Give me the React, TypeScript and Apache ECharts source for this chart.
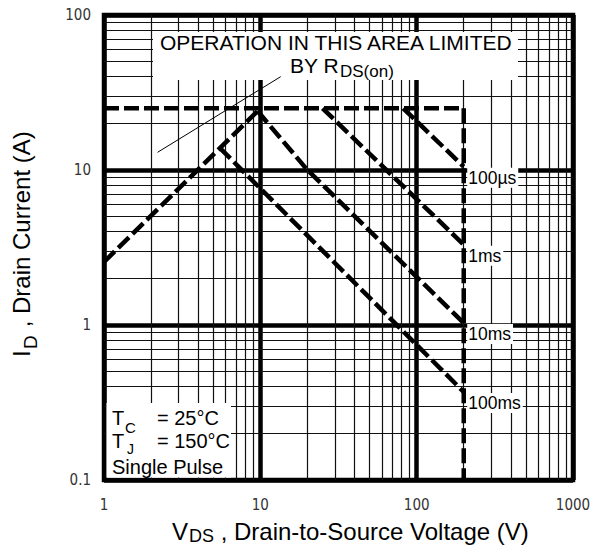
import React, { useEffect, useRef } from 'react';
import * as echarts from 'echarts';

// Axis ranges and grid ticks
const xRange = [1, 1000];
const yRange = [0.1, 100];
const xMinorGrid = [2, 3, 4, 5, 6, 7, 8, 9, 20, 30, 40, 50, 60, 70, 80, 90, 200, 300, 400, 500, 600, 700, 800, 900];
const yMinorGrid = [0.2, 0.3, 0.4, 0.5, 0.6, 0.7, 0.8, 0.9, 2, 3, 4, 5, 6, 7, 8, 9, 20, 30, 40, 50, 60, 70, 80, 90];

// Safe operating area boundaries (V, A)
const currentLimit = [[1, 25], [200, 25]];
const voltageLimit = [[200, 25], [200, 0.1]];
const rdsOnLimit = [[1, 2.55], [9.6, 24]];
const pulse100us = [[82, 25], [200, 10.5]];
const pulse1ms = [[25, 25], [200, 3.3]];
const pulse10ms = [[9.6, 24], [20, 10], [200, 1.03]];
const pulse100ms = [[5.5, 13.9], [200, 0.37]];
const rdsPointer = [[2.2, 13], [13.5, 40]];

const pulseLabelNames = ['100µs', '1ms', '10ms', '100ms'];
const pulseLabelAnchors = [[200, 10.5], [200, 3.3], [200, 1.03], [200, 0.37]];

const FONT = "'Liberation Sans', Arial, Helvetica, sans-serif";
const NARROW = "'Liberation Sans Narrow', 'Arial Narrow', 'DejaVu Sans Condensed', 'Liberation Sans', sans-serif";

function txt(text: string, x: number, y: number, size: number, extra: any = {}) {
  return {
    type: 'text',
    x,
    y,
    z: 20,
    silent: true,
    ...extra,
    style: {
      text,
      fill: '#000',
      fontSize: size,
      fontFamily: FONT,
      align: 'left',
      textAlign: 'left',
      verticalAlign: 'middle',
      textVerticalAlign: 'middle',
    },
  };
}

const dashed = { color: '#000', width: 4.5, type: [15, 5] as number[] };

function dashedSeries(name: string, data: number[][]) {
  return {
    name,
    type: 'line',
    data,
    z: 10,
    showSymbol: false,
    symbol: 'none',
    silent: true,
    lineStyle: dashed,
  };
}

export default function App() {
  const ref = useRef<HTMLDivElement>(null);
  useEffect(() => {
    if (!ref.current) return;
    const chart = echarts.init(ref.current, null, { renderer: 'svg' });
    const fmt = (v: number) => String(Number(v.toPrecision(3)));
    const option: any = {
      animation: false,
      backgroundColor: '#fff',
      grid: {
        left: 104,
        right: 27,
        top: 15,
        bottom: 66,
        show: true,
        borderColor: '#000',
        borderWidth: 4.5,
        containLabel: false,
        outerBoundsMode: 'none',
      },
      xAxis: {
        type: 'log',
        logBase: 10,
        min: xRange[0],
        max: xRange[1],
        axisLine: { show: false },
        axisTick: { show: false },
        axisLabel: { margin: 17, fontSize: 15, color: '#333', fontFamily: NARROW, formatter: fmt },
        splitLine: { show: true, lineStyle: { color: '#000', width: 4.5 } },
        minorTick: { show: false },
        minorSplitLine: { show: false },
      },
      yAxis: {
        type: 'log',
        logBase: 10,
        min: yRange[0],
        max: yRange[1],
        axisLine: { show: false },
        axisTick: { show: false },
        axisLabel: { margin: 13, fontSize: 15, color: '#333', fontFamily: NARROW, formatter: fmt },
        splitLine: { show: true, lineStyle: { color: '#000', width: 4.5 } },
        minorTick: { show: false },
        minorSplitLine: { show: false },
      },
      series: [
        {
          name: 'grid',
          type: 'line',
          data: [],
          z: 1,
          silent: true,
          markLine: {
            silent: true,
            z: 1,
            symbol: ['none', 'none'],
            label: { show: false },
            emphasis: { disabled: true },
            lineStyle: { color: '#111', width: 1.2, type: 'solid' },
            data: [
              ...xMinorGrid.map((v) => ({ xAxis: v })),
              ...yMinorGrid.map((v) => ({ yAxis: v })),
            ],
          },
        },
        dashedSeries('currentLimit', currentLimit),
        dashedSeries('voltageLimit', voltageLimit),
        dashedSeries('rdsOn', rdsOnLimit),
        dashedSeries('100us', pulse100us),
        dashedSeries('1ms', pulse1ms),
        dashedSeries('10ms', pulse10ms),
        dashedSeries('100ms', pulse100ms),
        {
          name: 'pointer',
          type: 'line',
          data: rdsPointer,
          z: 10,
          showSymbol: false,
          symbol: 'none',
          silent: true,
          lineStyle: { color: '#000', width: 1 },
        },
        {
          name: 'pulseLabels',
          type: 'scatter',
          z: 12,
          silent: true,
          symbolSize: 1,
          itemStyle: { color: 'rgba(0,0,0,0)', opacity: 1 },
          data: pulseLabelAnchors.map((v, i) => ({ name: pulseLabelNames[i], value: v })),
          label: {
            show: true,
            position: 'right',
            distance: 3,
            offset: [0, 11],
            formatter: (p: any) => p.name,
            fontSize: 17.5,
            fontFamily: FONT,
            color: '#000',
            opacity: 1,
            textBorderWidth: 0,
            backgroundColor: '#fff',
            padding: [1, 2, 1, 1],
          },
        },
      ],
      graphic: [
        { type: 'rect', z: 5, silent: true, shape: { x: 153, y: 32, width: 365, height: 48 }, style: { fill: '#fff' } },
        { type: 'rect', z: 5, silent: true, shape: { x: 106.5, y: 403, width: 124.5, height: 74.5 }, style: { fill: '#fff' } },
        txt('OPERATION IN THIS AREA LIMITED', 160, 42.7, 21),
        txt('BY R', 290, 65.4, 21),
        txt('DS(on)', 340, 71.1, 17),
        txt('T', 112, 418, 20),
        txt('C', 125, 427.5, 15),
        txt('= 25°C', 157, 418, 20),
        txt('T', 112, 441, 20),
        txt('J', 127, 448.5, 14),
        txt('= 150°C', 157, 441, 20),
        txt('Single Pulse', 112, 466.5, 20),
        // x axis title
        txt('V', 172, 531.5, 24),
        txt('DS', 189, 536, 18),
        txt(' , Drain-to-Source Voltage (V)', 214, 531.5, 24),
        // y axis title (rotated)
        txt('I', 21.9, 357, 24, { rotation: Math.PI / 2 }),
        txt('D', 30.4, 349, 19, { rotation: Math.PI / 2 }),
        txt(' , Drain Current (A)', 21.9, 334, 24, { rotation: Math.PI / 2 }),
      ],
    };
    chart.setOption(option);
    return () => chart.dispose();
  }, []);
  return (
    <div
      ref={ref}
      style={{ position: 'absolute', left: 0, top: 0, width: 600, height: 546 }}
    />
  );
}
